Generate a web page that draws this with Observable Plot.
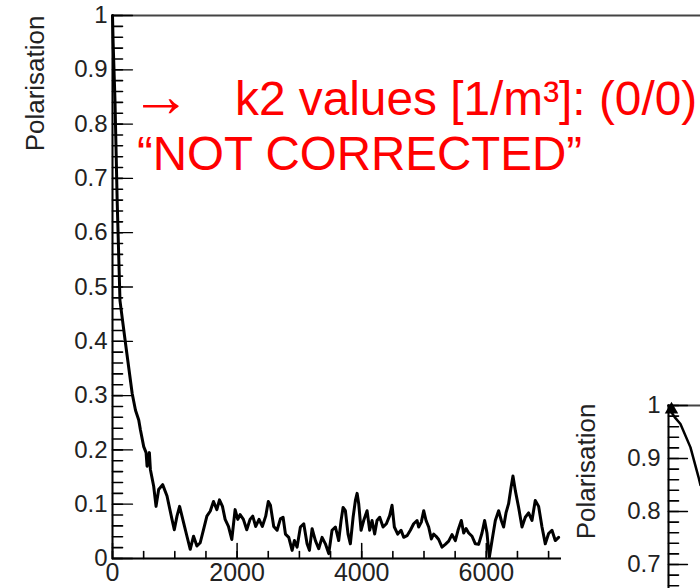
<!DOCTYPE html>
<html><head><meta charset="utf-8">
<script src="https://cdn.jsdelivr.net/npm/d3@7"></script>
<script src="https://cdn.jsdelivr.net/npm/@observablehq/plot@0.6"></script>
<style>
body{margin:0;background:#fff;}
#wrap{position:relative;width:700px;height:588px;overflow:hidden;font-family:"Liberation Sans",Arial,Helvetica,sans-serif;background:#fff;}
#main{position:absolute;left:0;top:0;width:760px;}
#inset{position:absolute;left:561px;top:380px;width:620px;background:#fff;}
#wrap svg{max-width:none !important;}
#notes{position:absolute;left:0;top:0;pointer-events:none;}
</style></head><body>
<div id="wrap">
  <div id="main"></div>
  <div id="inset"></div>
  <svg id="notes" width="700" height="588" font-family="Liberation Sans, Arial, Helvetica, sans-serif" fill="#ff0000">
    <text x="131" y="116" font-size="60">→</text>
    <text x="235" y="115" font-size="47.8">k2 values [1/m³]: (0/0)</text>
    <text x="137" y="170" font-size="47.5">“NOT CORRECTED”</text>
  </svg>
</div>
<script>
// ---- main plot data ----
const mainX = [0,10,40,75,120,209,316,369,421,448,501,539,555,592,608,661,699,741,805,875,955,992,1035,1077,1141,1195,1248,1301,1355,1408,1461,1515,1568,1621,1675,1717,1765,1808,1861,1915,1968,2011,2048,2101,2155,2208,2251,2299,2352,2405,2459,2501,2535,2588,2642,2695,2738,2776,2829,2883,2920,2963,3016,3070,3123,3161,3204,3257,3310,3364,3417,3471,3524,3578,3631,3669,3701,3738,3781,3818,3862,3899,3926,3952,3990,4032,4086,4128,4166,4208,4246,4289,4343,4396,4449,4487,4524,4578,4632,4674,4728,4781,4834,4888,4915,4957,4995,5033,5075,5118,5155,5193,5236,5289,5342,5396,5450,5503,5546,5599,5637,5675,5717,5771,5824,5877,5931,5973,6011,6048,6092,6145,6198,6241,6278,6316,6358,6397,6428,6466,6519,6573,6626,6679,6733,6786,6840,6894,6947,7000,7054,7107,7161];
const mainY = [1.0,0.95,0.843,0.659,0.475,0.396,0.304,0.273,0.255,0.237,0.206,0.195,0.17,0.195,0.164,0.133,0.096,0.127,0.136,0.115,0.072,0.053,0.078,0.096,0.066,0.041,0.017,0.041,0.023,0.029,0.053,0.078,0.087,0.105,0.09,0.108,0.096,0.072,0.059,0.035,0.09,0.072,0.081,0.072,0.053,0.072,0.078,0.059,0.072,0.059,0.078,0.105,0.098,0.059,0.052,0.073,0.076,0.045,0.039,0.015,0.033,0.021,0.058,0.064,0.027,0.015,0.055,0.033,0.018,0.039,0.027,0.009,0.052,0.058,0.033,0.07,0.094,0.088,0.045,0.027,0.076,0.107,0.12,0.101,0.052,0.07,0.088,0.052,0.07,0.045,0.07,0.076,0.058,0.064,0.079,0.098,0.058,0.045,0.052,0.039,0.042,0.052,0.064,0.07,0.058,0.067,0.088,0.07,0.058,0.036,0.045,0.041,0.035,0.021,0.026,0.032,0.044,0.033,0.052,0.07,0.047,0.055,0.047,0.041,0.027,0.026,0.047,0.07,0.047,0.002,0.033,0.07,0.088,0.07,0.058,0.084,0.101,0.131,0.152,0.125,0.094,0.058,0.076,0.084,0.07,0.107,0.096,0.058,0.027,0.046,0.052,0.033,0.039];

// ---- inset plot data (visible part only) ----
const insetX = [0,33,100,195,358,489,520];
const insetY = [1.0,0.99,0.978,0.965,0.921,0.865,0.85];

// ---- ticks and labels ----
const yMajor = [0,0.1,0.2,0.3,0.4,0.5,0.6,0.7,0.8,0.9,1];
const yLabels = ["0","0.1","0.2","0.3","0.4","0.5","0.6","0.7","0.8","0.9","1"];
const xMajor = [0,2000,4000,6000];
const xLabels = ["0","2000","4000","6000"];
const insetYMajor = [0.7,0.8,0.9,1];
const insetYLabels = ["0.7","0.8","0.9","1"];
const yMinor = d3.range(0, 1.0001, 0.02);
const xMinor = d3.range(0, 7501, 500);
const insetYMinor = d3.range(0.6, 1.0001, 0.02);
const axisTitle = "Polarisation";

const FONT = "Liberation Sans, Arial, Helvetica, sans-serif";
const mainData = mainX.map((x, i) => ({x, y: mainY[i]}));
const insetData = insetX.map((x, i) => ({x, y: insetY[i]}));
const fmtFrom = (vals, labels) => d => labels[vals.findIndex(v => Math.abs(v - d) < 1e-9)];

// plain line segment shape for tick marks (inward from axis)
const tickShape = {draw(context, l) { context.moveTo(0, 0); context.lineTo(0, -l); }};
const yTicks = (vals, len, sw) => Plot.vector(vals, {x: 0, y: d => d, length: len, rotate: 90, anchor: "start", shape: tickShape, stroke: "#000", strokeWidth: sw, clip: false});
const xTicks = (vals, len, sw) => Plot.vector(vals, {x: d => d, y: 0, length: len, rotate: 0, anchor: "start", shape: tickShape, stroke: "#000", strokeWidth: sw, clip: false});

const main = Plot.plot({
  width: 760, height: 588,
  marginLeft: 112, marginRight: 25, marginTop: 15, marginBottom: 30,
  x: {domain: [0, 10000]},
  y: {domain: [0, 1]},
  style: {fontFamily: FONT, background: "transparent", color: "#222", overflow: "visible", maxWidth: "none"},
  marks: [
    Plot.frame({stroke: "#444", strokeWidth: 2}),
    Plot.ruleX([0], {stroke: "#000", strokeWidth: 1.5}),
    Plot.ruleY([0], {stroke: "#000", strokeWidth: 1.5}),
    yTicks(yMinor, 10, 1.6),
    yTicks(yMajor, 20, 1.3),
    Plot.axisY({anchor: "left", ticks: yMajor, tickSize: 0, tickPadding: 5, tickFormat: fmtFrom(yMajor, yLabels), label: null, fontSize: 24, fill: "#222"}),
    xTicks(xMinor, 7, 1.6),
    xTicks(xMajor, 15, 1.5),
    Plot.axisX({anchor: "bottom", ticks: xMajor, tickSize: 0, tickPadding: 5, tickFormat: fmtFrom(xMajor, xLabels), label: null, fontSize: 25, fill: "#222"}),
    Plot.text([axisTitle], {frameAnchor: "top-left", rotate: -90, textAnchor: "end", dx: -87, dy: 0, fontSize: 26, fill: "#222"}),
    Plot.line(mainData, {x: "x", y: "y", stroke: "#000", strokeWidth: 3, strokeLinejoin: "round"})
  ]
});
document.getElementById("main").append(main);

const inset = Plot.plot({
  width: 620, height: 208,
  marginLeft: 107, marginRight: 22, marginTop: 25, marginBottom: -347,
  x: {domain: [0, 8000], axis: null},
  y: {domain: [0, 1], axis: null},
  style: {fontFamily: FONT, background: "#fff", color: "#222", overflow: "visible", maxWidth: "none"},
  marks: [
    Plot.frame({stroke: "#444", strokeWidth: 2}),
    Plot.ruleX([0], {stroke: "#000", strokeWidth: 1.5}),
    yTicks(insetYMinor, 10, 1.6),
    yTicks(insetYMajor, 19, 1.3),
    Plot.axisY({anchor: "left", ticks: insetYMajor, tickSize: 0, tickPadding: 8, tickFormat: fmtFrom(insetYMajor, insetYLabels), label: null, fontSize: 24, fill: "#222"}),
    Plot.text([axisTitle], {frameAnchor: "top-left", rotate: -90, textAnchor: "end", dx: -92, dy: -2, fontSize: 26, fill: "#222"}),
    Plot.line(insetData, {x: "x", y: "y", stroke: "#000", strokeWidth: 2.5, strokeLinejoin: "round"}),
    Plot.dot(insetData.slice(0, 1), {x: "x", y: "y", symbol: "triangle", r: 5, fill: "#000", dx: 3, dy: 4})
  ]
});
document.getElementById("inset").append(inset);
</script>
</body></html>
